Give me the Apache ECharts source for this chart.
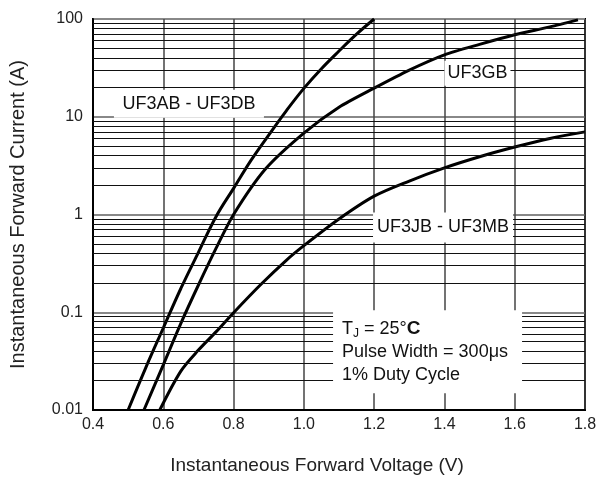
<!DOCTYPE html>
<html>
<head>
<meta charset="utf-8">
<script src="https://cdn.jsdelivr.net/npm/echarts@6/dist/echarts.min.js"></script>
<style>html,body{margin:0;padding:0;background:#fff;}#c{width:600px;height:480px;}</style>
</head>
<body>
<div id="c"></div>
<script>
// ---- data ----
var voltsAB   = [0.50, 0.55, 0.60, 0.65, 0.70, 0.75, 0.80, 0.85, 0.90, 0.95, 1.00, 1.05, 1.10, 1.15, 1.20];
var currentAB = [0.01, 0.027, 0.069, 0.175, 0.41, 0.95, 1.85, 3.6, 6.5, 11.5, 19.5, 31, 47, 70, 100];

var voltsGB   = [0.545, 0.60, 0.65, 0.70, 0.75, 0.80, 0.89, 1.00, 1.10, 1.20, 1.30, 1.40, 1.50, 1.60, 1.70, 1.78];
var currentGB = [0.01, 0.029, 0.077, 0.19, 0.45, 1.0, 2.9, 6.8, 12.5, 19.6, 30, 43, 55, 69, 83, 98];

var voltsJM   = [0.59, 0.65, 0.70, 0.75, 0.80, 0.876, 0.95, 1.00, 1.10, 1.20, 1.30, 1.40, 1.50, 1.60, 1.70, 1.80];
var currentJM = [0.01, 0.025, 0.041, 0.063, 0.099, 0.19, 0.34, 0.48, 0.9, 1.54, 2.2, 3.0, 3.9, 4.9, 6.0, 7.0];

var yTicks = {'0.01':'0.01','0.1':'0.1','1':'1','10':'10','100':'100'};
var gridMantissas = [2,3,4,5,6,7,8,9];
var gridDecades = [0.01, 0.1, 1, 10];

function pairs(xs, ys){ return xs.map(function(x,i){ return [x, ys[i]]; }); }

var minorLines = [];
gridDecades.forEach(function(d){ gridMantissas.forEach(function(m){ minorLines.push({yAxis: +(m*d).toPrecision(3)}); }); });

var FONT = 'Liberation Sans, Arial, sans-serif';
var chart = echarts.init(document.getElementById('c'), null, {renderer:'canvas'});

var curveStyle = {color:'#000', width:3};

chart.setOption({
  animation:false,
  backgroundColor:'#fff',
  grid:{left:92, right:15, top:19, bottom:69, show:true, borderColor:'#000', borderWidth:2, backgroundColor:'transparent'},
  xAxis:{
    type:'value', min:0.4, max:1.8, interval:0.2,
    name:'Instantaneous Forward Voltage (V)', nameLocation:'middle', nameGap:46,
    nameTextStyle:{fontFamily:FONT, fontSize:19, color:'#222', padding:[0,44,0,0]},
    axisLine:{show:true, lineStyle:{color:'#000', width:2}},
    axisTick:{show:false},
    axisLabel:{fontFamily:FONT, fontSize:16, color:'#222', margin:7,
      formatter:function(v){ return v.toFixed(1); }},
    splitLine:{show:true, lineStyle:{color:'#444', width:1.5}}
  },
  yAxis:{
    type:'log', logBase:10, min:0.01, max:100,
    name:'Instantaneous Forward Current (A)', nameLocation:'middle', nameGap:65,
    nameTextStyle:{fontFamily:FONT, fontSize:20, color:'#222'},
    axisLine:{show:true, lineStyle:{color:'#000', width:2}},
    axisTick:{show:false},
    axisLabel:{fontFamily:FONT, fontSize:16, color:'#222', margin:10,
      formatter:function(v){ var k = String(+v.toPrecision(3)); return yTicks[k] !== undefined ? yTicks[k] : k; }},
    splitLine:{show:true, lineStyle:{color:'#888', width:2}}
  },
  series:[
    {
      type:'line', data:[], z:1, silent:true,
      markLine:{silent:true, symbol:['none','none'], label:{show:false},
        lineStyle:{color:'#111', width:1, type:'solid'}, data:minorLines, animation:false}
    },
    {
      type:'line', data:[], z:3, silent:true,
      markPoint:{silent:true, animation:false, data:[
        {coord:[0.673, 13.6], symbol:'rect', symbolSize:[150,28], itemStyle:{color:'#fff'},
          label:{show:true, position:'inside', formatter:'UF3AB - UF3DB', fontFamily:FONT, fontSize:18, color:'#111'}},
        {coord:[1.494, 27.8], symbol:'rect', symbolSize:[66,25], itemStyle:{color:'#fff'},
          label:{show:true, position:'inside', formatter:'UF3GB', fontFamily:FONT, fontSize:18, color:'#111'}},
        {coord:[1.396, 0.737], symbol:'rect', symbolSize:[140,30], itemStyle:{color:'#fff'},
          label:{show:true, position:'inside', formatter:'UF3JB - UF3MB', fontFamily:FONT, fontSize:18, color:'#111'}},
        {coord:[1.352, 0.0395], symbol:'rect', symbolSize:[189,83], itemStyle:{color:'#fff'},
          label:{show:true, position:'insideLeft', distance:9,
            formatter:'{a|T}{s|J}{a| = 25°}{c|C}\n{a|Pulse Width = 300μs}\n{a|1% Duty Cycle}',
            rich:{
              a:{fontFamily:FONT, fontSize:18, color:'#111', lineHeight:23},
              s:{fontFamily:FONT, fontSize:12, color:'#111', lineHeight:23, verticalAlign:'bottom', padding:[6,0,0,0]},
              c:{fontFamily:FONT, fontSize:19, fontWeight:'bold', color:'#111', lineHeight:23}
            }}}
      ]}
    },
    {name:'UF3AB - UF3DB', type:'line', z:4, symbol:'none', smooth:0.4, data:pairs(voltsAB, currentAB), lineStyle:curveStyle},
    {name:'UF3GB', type:'line', z:4, symbol:'none', smooth:0.25, data:pairs(voltsGB, currentGB), lineStyle:curveStyle},
    {name:'UF3JB - UF3MB', type:'line', z:4, symbol:'none', smooth:0.3, data:pairs(voltsJM, currentJM), lineStyle:curveStyle}
  ]
});
</script>
</body>
</html>
